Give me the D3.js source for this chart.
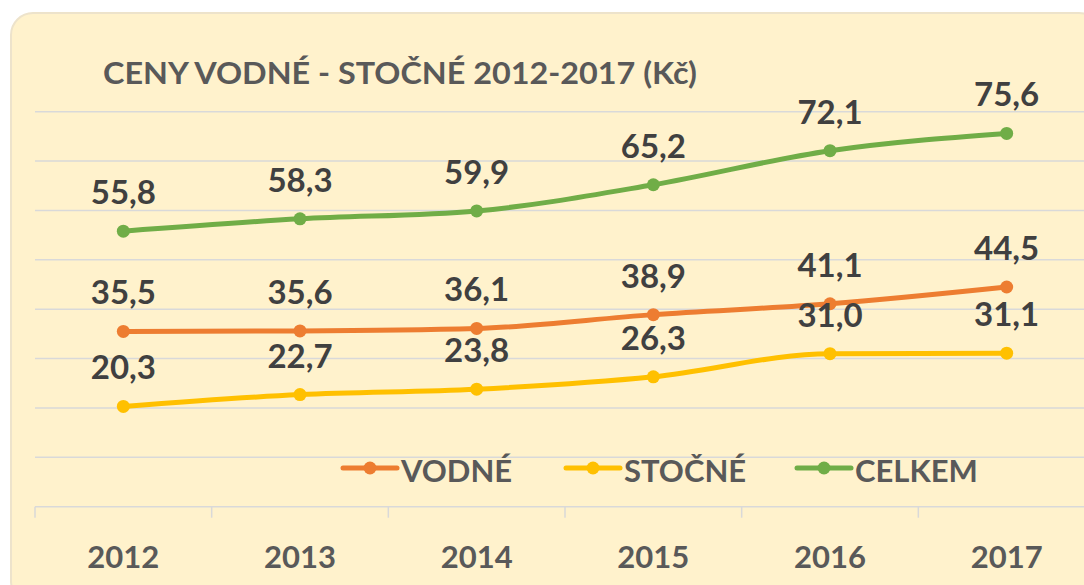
<!DOCTYPE html>
<html><head><meta charset="utf-8">
<script src="https://cdn.jsdelivr.net/npm/d3@7"></script>
<style>
html,body{margin:0;padding:0;background:#fff;}
svg{display:block;font-family:Lato,"Open Sans",sans-serif;}
</style></head>
<body>
<svg id="chart" width="1084" height="585"></svg>
<script>
const years = ["2012","2013","2014","2015","2016","2017"];
const vodne = [35.5, 35.6, 36.1, 38.9, 41.1, 44.5];
const stocne = [20.3, 22.7, 23.8, 26.3, 31.0, 31.1];
const celkem = [55.8, 58.3, 59.9, 65.2, 72.1, 75.6];
const seriesNames = ["VODNÉ","STOČNÉ","CELKEM"];
const seriesColors = ["#ED7D31","#FFC000","#70AD47"];
const yTicks = [0,10,20,30,40,50,60,70,80];
const title = "CENY VODNÉ - STOČNÉ 2012-2017 (Kč)";

const svg = d3.select("#chart");
svg.append("rect").attr("x",11).attr("y",13).attr("width",1090).attr("height",590)
  .attr("rx",22).attr("fill","#FFF2CC").attr("stroke","#EDE3CB").attr("stroke-width",2);

const x = d3.scaleBand().domain(years).range([35,1095]);
const y = d3.scaleLinear().domain([0,80]).range([506.7,111.7]);

// gridlines
svg.append("g").selectAll("line").data(yTicks.slice(1)).join("line")
  .attr("x1",35).attr("x2",1100).attr("y1",d=>y(d)).attr("y2",d=>y(d))
  .attr("stroke","#D9D9D9").attr("stroke-width",1.5);

// x axis
svg.append("line").attr("x1",35).attr("x2",1100).attr("y1",y(0)).attr("y2",y(0))
  .attr("stroke","#D9D9D9").attr("stroke-width",1.5);
const bounds = years.map(d=>x(d)).concat([x(years[years.length-1])+x.bandwidth()]);
svg.append("g").selectAll("line").data(bounds).join("line")
  .attr("x1",d=>d).attr("x2",d=>d).attr("y1",y(0)).attr("y2",y(0)+11)
  .attr("stroke","#D9D9D9").attr("stroke-width",1.5);
svg.append("g").selectAll("text").data(years).join("text")
  .attr("x",d=>x(d)+x.bandwidth()/2).attr("y",568)
  .attr("text-anchor","middle").attr("font-size",31).attr("font-weight","bold")
  .attr("fill","#595959").text(d=>d);

// title
svg.append("text").attr("x",103).attr("y",84).attr("font-size",31).attr("font-weight","bold")
  .attr("fill","#595959").attr("textLength",594).attr("lengthAdjust","spacingAndGlyphs").text(title);

const data = [vodne, stocne, celkem];
const line = d3.line().x((d,i)=>x(years[i])+x.bandwidth()/2).y(d=>y(d)).curve(d3.curveMonotoneX);
const fmt = v => v.toFixed(1).replace(".",",");

data.forEach((vals,si)=>{
  const g = svg.append("g");
  g.append("path").datum(vals).attr("d",line).attr("fill","none")
    .attr("stroke",seriesColors[si]).attr("stroke-width",5).attr("stroke-linecap","round");
  g.selectAll("circle").data(vals).join("circle")
    .attr("cx",(d,i)=>x(years[i])+x.bandwidth()/2).attr("cy",d=>y(d)).attr("r",6.5)
    .attr("fill",seriesColors[si]);
  g.selectAll("text").data(vals).join("text")
    .attr("x",(d,i)=>x(years[i])+x.bandwidth()/2).attr("y",d=>y(d)-27)
    .attr("text-anchor","middle").attr("font-size",33).attr("font-weight","bold")
    .attr("fill","#404040").text(fmt);
});

// legend
const legX = [343, 566, 797];
seriesNames.forEach((n,i)=>{
  const g = svg.append("g").attr("transform",`translate(${legX[i]},468)`);
  g.append("line").attr("x1",0).attr("x2",54).attr("stroke",seriesColors[i]).attr("stroke-width",5).attr("stroke-linecap","round");
  g.append("circle").attr("cx",27).attr("r",6.5).attr("fill",seriesColors[i]);
  g.append("text").attr("x",58).attr("y",14).attr("font-size",31).attr("font-weight","bold")
    .attr("fill","#595959").text(n);
});
</script>
</body></html>
